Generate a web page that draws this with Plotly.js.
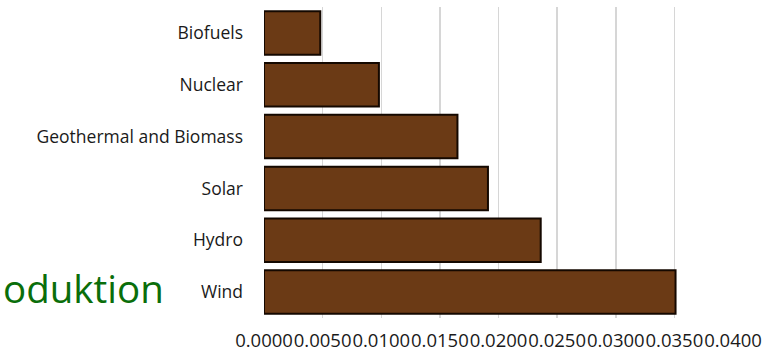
<!DOCTYPE html>
<html>
<head>
<meta charset="utf-8">
<script src="https://cdn.plot.ly/plotly-3.0.1.min.js"></script>
<style>
  html, body { margin: 0; padding: 0; background: #ffffff; }
  #chart { width: 784px; height: 351px; }
</style>
</head>
<body>
<div id="chart"></div>
<script>
// Data
const categories = ["Biofuels", "Nuclear", "Geothermal and Biomass", "Solar", "Hydro", "Wind"];
const values = [0.0048, 0.0098, 0.0165, 0.0191, 0.0236, 0.0351];
const tickValues = [0, 0.005, 0.01, 0.015, 0.02, 0.025, 0.03, 0.035, 0.04];

const W = 784, H = 351;
const plotLeft = 263.6, plotRight = 732.7, plotTop = 6.6, plotBottom = 317.6;

const trace = {
  type: "bar",
  orientation: "h",
  x: values,
  y: categories,
  marker: { color: "#6B3A15", line: { color: "#140800", width: 2 } },
  hoverinfo: "x+y"
};

const layout = {
  width: W,
  height: H,
  margin: { l: plotLeft, r: W - plotRight, t: plotTop, b: H - plotBottom, pad: 0 },
  paper_bgcolor: "#ffffff",
  plot_bgcolor: "#ffffff",
  showlegend: false,
  bargap: 0.16,
  font: { family: "Open Sans, sans-serif", color: "#1a1a1a" },
  xaxis: {
    range: [0, 0.04],
    tickmode: "array",
    tickvals: tickValues,
    tickformat: ".4f",
    tickangle: 0,
    showgrid: true,
    gridcolor: "#d6d6d6",
    gridwidth: 1.5,
    zeroline: false,
    showline: false,
    ticks: "",
    tickfont: { family: "Open Sans, sans-serif", size: 18.5, color: "#1a1a1a" },
    ticklabelstandoff: 9,
    automargin: false,
    fixedrange: true
  },
  yaxis: {
    type: "category",
    autorange: "reversed",
    showgrid: false,
    zeroline: false,
    showline: false,
    ticks: "",
    tickfont: { family: "Open Sans, sans-serif", size: 17.5, color: "#1a1a1a" },
    ticklabelstandoff: 20,
    automargin: false,
    fixedrange: true
  },
  annotations: [
    {
      text: "oduktion",
      xref: "paper", yref: "paper",
      x: (1 - plotLeft) / (plotRight - plotLeft),
      y: (H - 316 - (H - plotBottom)) / (plotBottom - plotTop),
      xanchor: "left", yanchor: "bottom",
      showarrow: false,
      font: { family: "Open Sans, sans-serif", size: 38.5, color: "#0a6e0a" }
    }
  ]
};

Plotly.newPlot("chart", [trace], layout, { displayModeBar: false, staticPlot: true });
</script>
</body>
</html>
